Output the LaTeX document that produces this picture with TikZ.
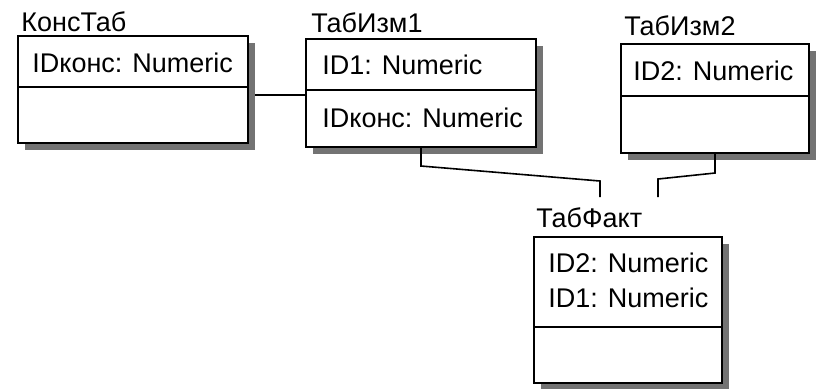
\documentclass[tikz,border=0pt]{standalone}
\usepackage{fontspec}
\setmainfont{Liberation Sans}
\usetikzlibrary{shadows}
\begin{document}
\begin{tikzpicture}[x=0.5pt,y=-0.5pt,
  tbl/.style={draw, line width=0.9pt, fill=white, anchor=north west, inner sep=0pt, outer sep=0pt,
    drop shadow={shadow xshift=3.5pt, shadow yshift=-3.5pt, fill=black!55, opacity=1}},
  lbl/.style={anchor=base west, inner sep=0pt, font=\fontsize{13.5}{16}\selectfont},
  divider/.style={line width=0.9pt},
  conn/.style={line width=0.8pt}]
\useasboundingbox[fill=white] (0,0) rectangle (817,388);

% КонсТаб
\node[tbl, minimum width=115pt, minimum height=53.5pt] (kons) at (18,36) {};
\draw[divider] (kons.west |- 0,87) -- (kons.east |- 0,87);
\node[lbl] (konsT) at (21,31) {КонсТаб};
\node[lbl] (konsR1) at (32,72) {IDконс: Numeric};

% ТабИзм1
\node[tbl, minimum width=115pt, minimum height=54pt] (izm1) at (306,39) {};
\draw[divider] (izm1.west |- 0,90) -- (izm1.east |- 0,90);
\node[lbl] (izm1T) at (311,32) {ТабИзм1};
\node[lbl] (izm1R1) at (322,74) {ID1: Numeric};
\node[lbl] (izm1R2) at (322,127) {IDконс: Numeric};

% ТабИзм2
\node[tbl, minimum width=94pt, minimum height=54.5pt] (izm2) at (621,44) {};
\draw[divider] (izm2.west |- 0,96) -- (izm2.east |- 0,96);
\node[lbl] (izm2T) at (624,35) {ТабИзм2};
\node[lbl] (izm2R1) at (633,80) {ID2: Numeric};

% ТабФакт
\node[tbl, minimum width=94pt, minimum height=73pt] (fakt) at (534,237) {};
\draw[divider] (fakt.west |- 0,327) -- (fakt.east |- 0,327);
\node[lbl] (faktT) at (536,227) {ТабФакт};
\node[lbl] (faktR1) at (548,272) {ID2: Numeric};
\node[lbl] (faktR2) at (548,307) {ID1: Numeric};

% connectors
\coordinate (k1) at (255,95);
\draw[conn] (k1) -- (izm1.west |- k1);
\coordinate (f1) at (600,197);
\draw[conn] (izm1.south) -- (421,166) -- (600,181) -- (f1);
\coordinate (f2) at (658,197);
\draw[conn] (izm2.south) -- (715,173) -- (658,179) -- (f2);
\end{tikzpicture}
\end{document}
